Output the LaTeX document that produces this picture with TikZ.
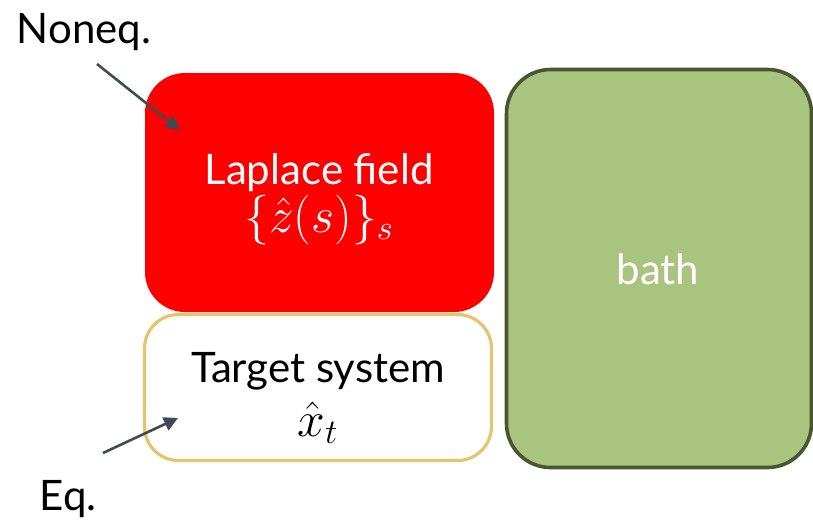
\documentclass[tikz,border=0pt]{standalone}
\usepackage{fontspec}
\setmainfont{Lato}
\usetikzlibrary{arrows.meta}
\definecolor{redfill}{HTML}{FF0000}
\definecolor{tanline}{HTML}{E6C46E}
\definecolor{greenfill}{HTML}{A9C47F}
\definecolor{greenline}{HTML}{4B5532}
\definecolor{arrowcol}{HTML}{3F4B52}
\newcommand{\bigmath}[1]{{\fontsize{24}{28}\selectfont$#1$}}
\tikzset{
  box/.style={rounded corners=#1, inner sep=0pt},
  lbl/.style={font=\fontsize{21}{25}\selectfont, inner sep=0pt, anchor=base},
  twoline/.style={font=\fontsize{21}{25}\selectfont, inner sep=0pt, align=center, anchor=center},
  pointer/.style={draw=arrowcol, line width=1.3pt, -{Triangle[length=7pt,width=7pt]}}
}
\begin{document}
\begin{tikzpicture}[x=0.5pt,y=-0.5pt]
\useasboundingbox (0,0) rectangle (813,521);
\node[box=20pt, fill=redfill, minimum width=174.5pt, minimum height=119.5pt] (laplace) at (319.5,192.5) {};
\node[box=17pt, draw=tanline, fill=white, line width=1.6pt, minimum width=173.5pt, minimum height=73pt] (target) at (318,387.5) {};
\node[box=22pt, draw=greenline, fill=greenfill, line width=1.8pt, minimum width=152.5pt, minimum height=199pt] (bath) at (659,268.5) {};
\node[twoline, text=white] (lt) at (319,199) {Laplace field\\[-1pt]\bigmath{\{\hat z(s)\}_s}};
\node[twoline] (tt) at (318,398) {Target system\\[2pt]\bigmath{\hat x_t}};
\node[lbl, text=white] (bt) at (658,284) {bath};
\node[lbl] (noneq) at (84,43) {Noneq.};
\node[lbl] (eq) at (68,510) {Eq.};
\coordinate (nstart) at (97,64);
\coordinate (ntip) at (180,130);
\coordinate (estart) at (103,453);
\coordinate (etip) at (178,418);
\draw[pointer] (nstart) -- (ntip);
\draw[pointer] (estart) -- (etip);
\end{tikzpicture}
\end{document}
